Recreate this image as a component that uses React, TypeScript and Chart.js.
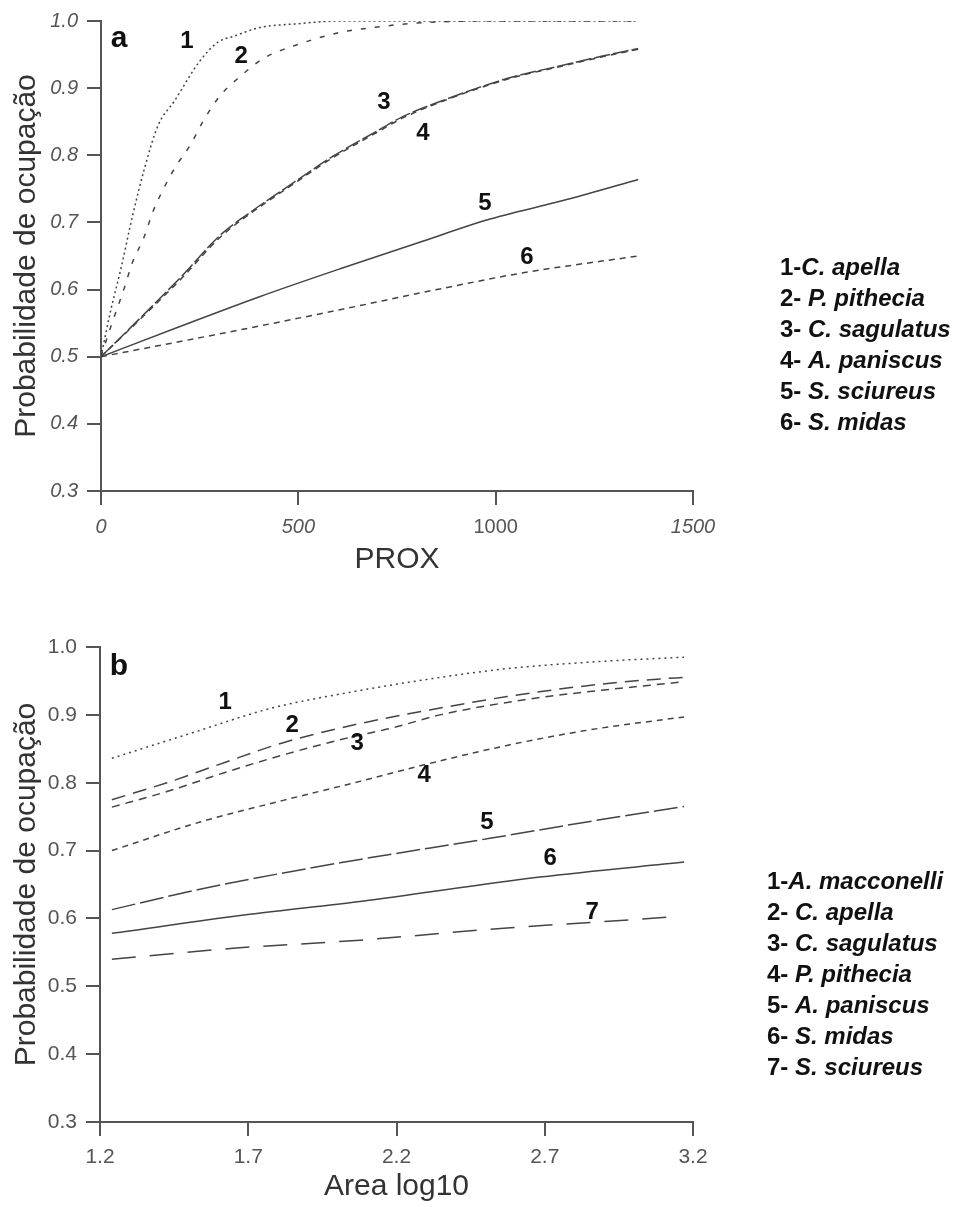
import React, { useEffect, useRef } from "react";
import { Chart, registerables } from "chart.js";

Chart.register(...registerables);

const FONT = "'Liberation Sans', Arial, Helvetica, sans-serif";

// ---------- Panel a (PROX) ----------
const aXTicks = [0, 500, 1000, 1500];
const probTicks = [0.3, 0.4, 0.5, 0.6, 0.7, 0.8, 0.9, 1.0];

const a1X = [0, 25, 50, 80, 110, 145, 185, 250, 295, 340, 400, 500, 600, 800, 1000, 1360];
const a1Y = [0.5, 0.57, 0.63, 0.71, 0.78, 0.845, 0.88, 0.94, 0.968, 0.978, 0.99, 0.996, 1.0, 1.0, 1.0, 1.0];
const a2X = [0, 25, 60, 80, 107, 133, 154, 187, 226, 259, 302, 352, 411, 504, 606, 700, 800, 1000, 1360];
const a2Y = [0.5, 0.545, 0.604, 0.641, 0.675, 0.718, 0.745, 0.781, 0.815, 0.851, 0.889, 0.917, 0.944, 0.966, 0.983, 0.991, 0.997, 1.0, 1.0];
const a3X = [0, 124, 208, 302, 378, 487, 589, 690, 766, 859, 953, 1045, 1155, 1265, 1361];
const a3Y = [0.5, 0.572, 0.622, 0.681, 0.715, 0.759, 0.799, 0.833, 0.858, 0.88, 0.9, 0.917, 0.932, 0.947, 0.959];
const a4X = [0, 124, 208, 302, 378, 487, 589, 690, 766, 859, 953, 1045, 1155, 1265, 1361];
const a4Y = [0.5, 0.57, 0.619, 0.678, 0.713, 0.757, 0.797, 0.831, 0.856, 0.879, 0.899, 0.916, 0.931, 0.946, 0.958];
const a5X = [0, 200, 400, 606, 800, 986, 1200, 1361];
const a5Y = [0.5, 0.545, 0.589, 0.631, 0.669, 0.705, 0.737, 0.764];
const a6X = [0, 335, 606, 859, 1070, 1361];
const a6Y = [0.5, 0.538, 0.57, 0.601, 0.625, 0.65];

const aLabelText = ["a", "1", "2", "3", "4", "5", "6"];
const aLabelX = [46, 218, 355, 717, 816, 973, 1079];
const aLabelY = [0.973, 0.969, 0.948, 0.879, 0.833, 0.728, 0.648];

const aLegendNum = ["1-", "2- ", "3- ", "4- ", "5- ", "6- "];
const aLegendName = ["C. apella", "P. pithecia", "C. sagulatus", "A. paniscus", "S. sciureus", "S. midas"];

// ---------- Panel b (Area log10) ----------
const bXTicks = [1.2, 1.7, 2.2, 2.7, 3.2];

const b1X = [1.24, 1.5, 1.78, 2.04, 2.3, 2.57, 2.9, 3.17];
const b1Y = [0.836, 0.872, 0.91, 0.933, 0.952, 0.968, 0.979, 0.985];
const b2X = [1.24, 1.426, 1.628, 1.818, 2.054, 2.347, 2.573, 2.843, 3.09, 3.17];
const b2Y = [0.775, 0.8, 0.831, 0.859, 0.885, 0.91, 0.927, 0.943, 0.953, 0.955];
const b3X = [1.24, 1.426, 1.628, 1.818, 2.054, 2.18, 2.347, 2.627, 2.843, 3.13, 3.17];
const b3Y = [0.764, 0.787, 0.816, 0.841, 0.868, 0.88, 0.9, 0.922, 0.934, 0.947, 0.949];
const b4X = [1.24, 1.537, 1.818, 2.077, 2.29, 2.573, 2.853, 3.17];
const b4Y = [0.7, 0.742, 0.774, 0.802, 0.826, 0.855, 0.878, 0.897];
const b5X = [1.24, 1.537, 2.01, 2.515, 2.853, 3.17];
const b5Y = [0.613, 0.643, 0.682, 0.718, 0.743, 0.765];
const b6X = [1.24, 1.706, 2.077, 2.684, 3.17];
const b6Y = [0.578, 0.606, 0.625, 0.661, 0.683];
const b7X = [1.24, 1.649, 2.077, 2.573, 2.887, 3.12];
const b7Y = [0.54, 0.556, 0.568, 0.586, 0.595, 0.602];

const bLabelText = ["b", "1", "2", "3", "4", "5", "6", "7"];
const bLabelX = [1.264, 1.622, 1.848, 2.067, 2.293, 2.505, 2.718, 2.86];
const bLabelY = [0.971, 0.919, 0.885, 0.858, 0.811, 0.741, 0.689, 0.609];

const bLegendNum = ["1-", "2- ", "3- ", "4- ", "5- ", "6- ", "7- "];
const bLegendName = ["A. macconelli", "C. apella", "C. sagulatus", "P. pithecia", "A. paniscus", "S. midas", "S. sciureus"];

const LINE = "#444444";
const AXIS = "#555555";

function series(xs: number[], ys: number[], dash: number[], width = 1.5) {
  return {
    data: xs.map((x, i) => ({ x, y: ys[i] })),
    borderColor: LINE,
    borderWidth: width,
    borderDash: dash,
    pointRadius: 0,
    fill: false,
    cubicInterpolationMode: "monotone" as const,
  };
}

function annotatePlugin(
  texts: string[], lx: number[], ly: number[],
  legNum: string[], legName: string[], legX: number, legY: number, legStep: number
) {
  return {
    id: "annot",
    afterDraw(chart: any) {
      const ctx = chart.ctx as CanvasRenderingContext2D;
      const xs = chart.scales.x;
      const ys = chart.scales.y;
      ctx.save();
      ctx.fillStyle = "#111";
      ctx.textBaseline = "middle";
      ctx.textAlign = "center";
      texts.forEach((t, i) => {
        const size = i === 0 ? 30 : 24;
        ctx.font = `bold ${size}px ${FONT}`;
        ctx.fillText(t, xs.getPixelForValue(lx[i]), ys.getPixelForValue(ly[i]));
      });
      ctx.textAlign = "left";
      legNum.forEach((n, i) => {
        const y = legY + i * legStep;
        ctx.font = `bold 24px ${FONT}`;
        ctx.fillText(n, legX, y);
        const w = ctx.measureText(n).width;
        ctx.font = `italic bold 24px ${FONT}`;
        ctx.fillText(legName[i], legX + w, y);
      });
      ctx.restore();
    },
  };
}

function makeConfig(o: any) {
  return {
    type: "line" as const,
    data: { datasets: o.datasets },
    plugins: [o.plugin],
    options: {
      responsive: false,
      animation: false as const,
      events: [],
      layout: { padding: { left: 0, right: 268, top: o.padTop, bottom: 0 } },
      plugins: { legend: { display: false }, tooltip: { enabled: false } },
      scales: {
        x: {
          type: "linear" as const,
          min: o.xMin,
          max: o.xMax,
          afterBuildTicks: (s: any) => { s.ticks = o.xTicks.map((v: number) => ({ value: v })); },
          afterFit: (s: any) => { s.height = o.xAxisHeight; },
          grid: { drawOnChartArea: false, drawTicks: true, tickLength: 14, color: AXIS, lineWidth: 2 },
          border: { display: true, color: AXIS, width: 2 },
          ticks: {
            color: "#555",
            padding: o.xTickPad,
            autoSkip: false,
            maxRotation: 0,
            font: o.xTickFont,
            callback: o.xFmt,
          },
          title: {
            display: true,
            text: o.xTitle,
            color: "#333",
            font: { family: FONT, size: 30 },
            padding: { top: 0, bottom: o.xTitlePad },
          },
        },
        y: {
          type: "linear" as const,
          min: 0.3,
          max: 1.0,
          afterBuildTicks: (s: any) => { s.ticks = probTicks.map((v) => ({ value: v })); },
          afterFit: (s: any) => { s.width = o.yAxisWidth; },
          grid: { drawOnChartArea: false, drawTicks: true, tickLength: 14, color: AXIS, lineWidth: 2 },
          border: { display: true, color: AXIS, width: 2 },
          ticks: {
            color: "#555",
            padding: 9,
            font: o.yTickFont,
            callback: (v: any) => Number(v).toFixed(1),
          },
          title: {
            display: true,
            text: "Probabilidade de ocupação",
            color: "#333",
            font: { family: FONT, size: 30 },
            padding: { top: 9, bottom: 0 },
          },
        },
      },
    },
  };
}

export default function App() {
  const refA = useRef<HTMLCanvasElement>(null);
  const refB = useRef<HTMLCanvasElement>(null);

  useEffect(() => {
    Chart.defaults.font.family = FONT;
    const chartA = new Chart(
      refA.current as HTMLCanvasElement,
      makeConfig({
        datasets: [
          series(a1X, a1Y, [2, 3]),
          series(a2X, a2Y, [5, 9]),
          series(a3X, a3Y, [16, 3]),
          series(a4X, a4Y, [6, 5]),
          series(a5X, a5Y, []),
          series(a6X, a6Y, [6, 5]),
        ],
        plugin: annotatePlugin(aLabelText, aLabelX, aLabelY, aLegendNum, aLegendName, 780, 268, 31),
        padTop: 17,
        xMin: 0,
        xMax: 1500,
        xTicks: aXTicks,
        xAxisHeight: 109,
        xTickPad: 10,
        xTitle: "PROX",
        xTitlePad: 22,
        yAxisWidth: 101,
        xTickFont: (c: any) => ({
          family: FONT,
          size: 20,
          style: c && c.tick && c.tick.value === 1000 ? "normal" : "italic",
        }),
        yTickFont: { family: FONT, size: 20, style: "italic" },
        xFmt: (v: any) => String(v),
      }) as any
    );
    const chartB = new Chart(
      refB.current as HTMLCanvasElement,
      makeConfig({
        datasets: [
          series(b1X, b1Y, [2, 4]),
          series(b2X, b2Y, [14, 8]),
          series(b3X, b3Y, [8, 6]),
          series(b4X, b4Y, [6, 5]),
          series(b5X, b5Y, [24, 5]),
          series(b6X, b6Y, []),
          series(b7X, b7Y, [24, 14]),
        ],
        plugin: annotatePlugin(bLabelText, bLabelX, bLabelY, bLegendNum, bLegendName, 767, 282, 31),
        padTop: 47,
        xMin: 1.2,
        xMax: 3.2,
        xTicks: bXTicks,
        xAxisHeight: 85,
        xTickPad: 9,
        xTitle: "Area log10",
        xTitlePad: 2,
        yAxisWidth: 100,
        xTickFont: { family: FONT, size: 21 },
        yTickFont: { family: FONT, size: 21 },
        xFmt: (v: any) => Number(v).toFixed(1),
      }) as any
    );
    return () => {
      chartA.destroy();
      chartB.destroy();
    };
  }, []);

  return (
    <div
      style={{
        position: "absolute",
        left: 0,
        top: 0,
        width: 961,
        height: 1207,
        overflow: "hidden",
        background: "#fff",
      }}
    >
      <canvas ref={refA} width={961} height={600} style={{ position: "absolute", left: 0, top: 0 }} />
      <canvas ref={refB} width={961} height={607} style={{ position: "absolute", left: 0, top: 600 }} />
    </div>
  );
}
